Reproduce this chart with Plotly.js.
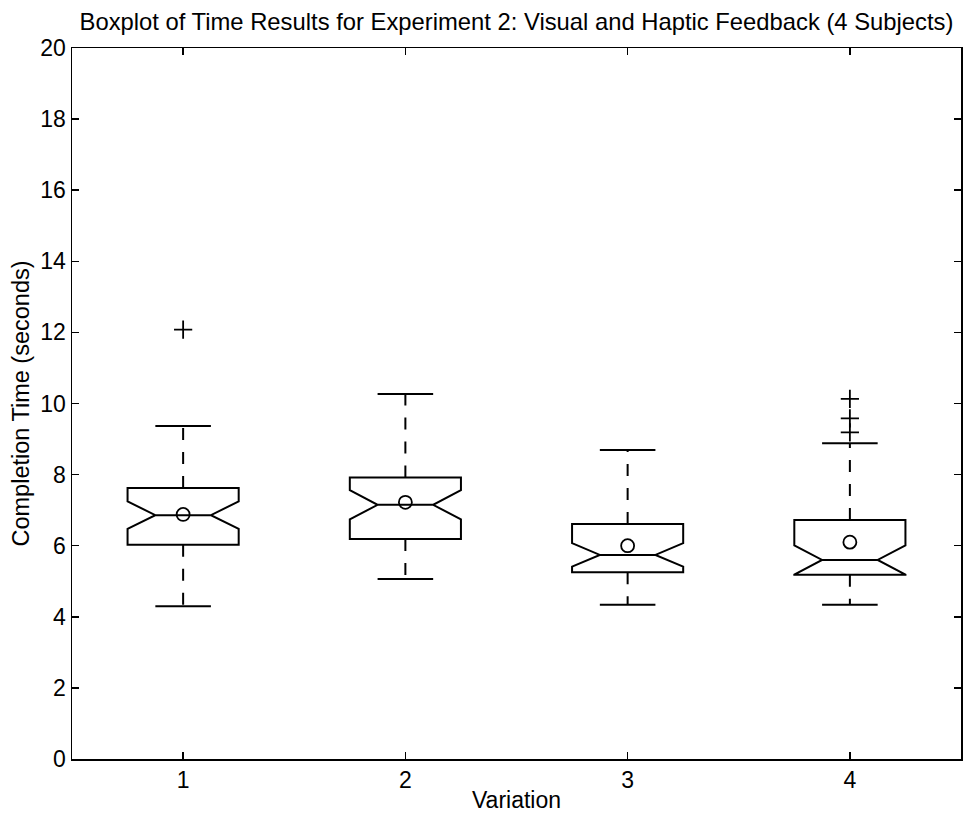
<!DOCTYPE html>
<html>
<head>
<meta charset="utf-8">
<script src="https://cdn.plot.ly/plotly-3.0.1.min.js"></script>
<style>
  html, body { margin: 0; padding: 0; background: #fff; }
  #chart { width: 964px; height: 817px; }
</style>
</head>
<body>
<div id="chart"></div>
<script>
// Completion-time summary statistics per variation (seconds)
const variations = [1, 2, 3, 4];
const q1 = [6.03, 6.19, 5.25, 5.18];
const medians = [6.86, 7.15, 5.74, 5.60];
const q3 = [7.62, 7.92, 6.61, 6.72];
const lowerWhisker = [4.30, 5.06, 4.34, 4.34];
const upperWhisker = [9.37, 10.27, 8.69, 8.88];
const means = [6.88, 7.22, 6.00, 6.10];
const notchHalfSpan = [0.385, 0.41, 0.33, 0.41];
const outlierX = [1, 4, 4, 4];
const outlierY = [12.08, 10.13, 9.58, 9.19];
const tickLabels = ['1', '2', '3', '4'];

const INK = '#000000';
const BOX_WIDTH = 0.5;
const CAP_HALF = 0.125;
const FONT = '"Liberation Sans", Arial, Helvetica, sans-serif';

const traces = [];

// Notched boxes (whiskers are drawn separately as dashed lines)
traces.push({
  type: 'box',
  x: variations,
  q1: q1,
  median: medians,
  q3: q3,
  lowerfence: q1,
  upperfence: q3,
  notched: true,
  notchspan: notchHalfSpan,
  notchwidth: 0.25,
  width: BOX_WIDTH,
  whiskerwidth: 0,
  boxpoints: false,
  fillcolor: 'rgba(0,0,0,0)',
  line: { color: INK, width: 2 },
  hoverinfo: 'skip',
  showlegend: false
});

// Dashed whiskers running from the box edges out to the caps
variations.forEach((v, i) => {
  traces.push({
    type: 'scatter', mode: 'lines',
    x: [v, v, null, v, v],
    y: [q3[i], upperWhisker[i], null, q1[i], lowerWhisker[i]],
    line: { color: INK, width: 2, dash: '12px,12px' },
    hoverinfo: 'skip', showlegend: false
  });
  traces.push({
    type: 'scatter', mode: 'lines',
    x: [v - CAP_HALF, v + CAP_HALF, null, v - CAP_HALF, v + CAP_HALF],
    y: [upperWhisker[i], upperWhisker[i], null, lowerWhisker[i], lowerWhisker[i]],
    line: { color: INK, width: 2 },
    hoverinfo: 'skip', showlegend: false
  });
});

// Means
traces.push({
  type: 'scatter', mode: 'markers',
  x: variations, y: means,
  marker: { symbol: 'circle-open', size: 13, color: INK, line: { color: INK, width: 1.8 } },
  showlegend: false
});

// Outliers
traces.push({
  type: 'scatter', mode: 'markers',
  x: outlierX, y: outlierY,
  marker: { symbol: 'cross-thin-open', size: 13, color: INK, line: { color: INK, width: 1.8 } },
  showlegend: false
});

const axisCommon = {
  showline: true, linecolor: INK, linewidth: 1.5,
  mirror: 'allticks', ticks: 'inside', ticklen: 7, tickwidth: 1.5, tickcolor: INK,
  showgrid: false, zeroline: false,
  tickfont: { family: FONT, size: 23, color: INK }
};

const layout = {
  width: 964, height: 817,
  margin: { l: 72, r: 3, t: 48, b: 58 },
  paper_bgcolor: '#ffffff', plot_bgcolor: '#ffffff',
  font: { family: FONT, color: INK },
  title: {
    text: 'Boxplot of Time Results for Experiment 2: Visual and Haptic Feedback (4 Subjects)',
    font: { family: FONT, size: 23.8, color: INK },
    xref: 'paper', x: 0.5, xanchor: 'center',
    yref: 'container', y: 1 - 22 / 817, yanchor: 'middle'
  },
  xaxis: Object.assign({}, axisCommon, {
    range: [0.5, 4.5], tickvals: variations, ticktext: tickLabels,
    title: { text: 'Variation', font: { family: FONT, size: 23, color: INK }, standoff: 0 }
  }),
  yaxis: Object.assign({}, axisCommon, {
    range: [0, 20], tickvals: [0, 2, 4, 6, 8, 10, 12, 14, 16, 18, 20],
    title: { text: 'Completion Time (seconds)', font: { family: FONT, size: 23.5, color: INK }, standoff: 4 }
  }),
  showlegend: false
};

Plotly.newPlot('chart', traces, layout, { displayModeBar: false, staticPlot: true });
</script>
</body>
</html>
